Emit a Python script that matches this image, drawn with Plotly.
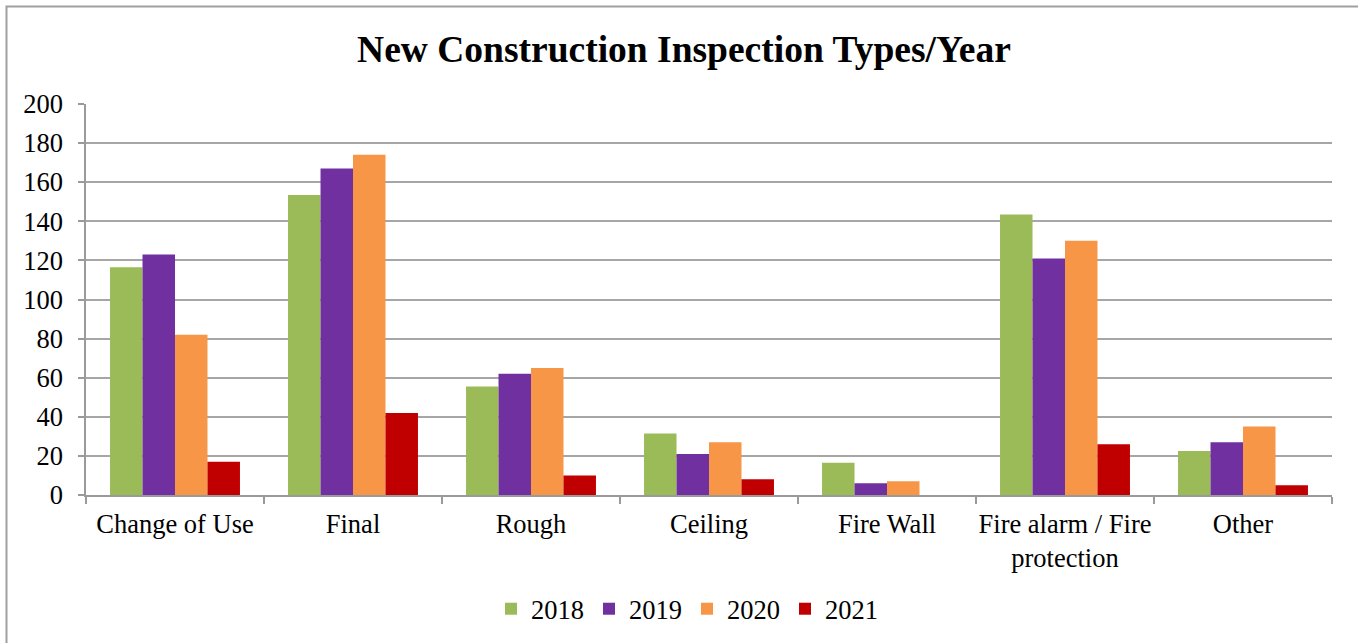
import plotly.graph_objects as go

categories = ["Change of Use", "Final", "Rough", "Ceiling", "Fire Wall",
              "Fire alarm / Fire<br>protection", "Other"]
years = ["2018", "2019", "2020", "2021"]
values_2018 = [116.5, 153.5, 55.5, 31.5, 16.5, 143.5, 22.5]
values_2019 = [123, 167, 62, 21, 6, 121, 27]
values_2020 = [82, 174, 65, 27, 7, 130, 35]
values_2021 = [17, 42, 10, 8, 0, 26, 5]
colors = ["#9BBB59", "#7030A0", "#F79646", "#C00000"]
y_ticks = [0, 20, 40, 60, 80, 100, 120, 140, 160, 180, 200]

series = [values_2018, values_2019, values_2020, values_2021]

fig = go.Figure()
for name, vals, col in zip(years, series, colors):
    fig.add_trace(go.Bar(name=name, x=categories, y=vals, marker_color=col,
                         marker_line_width=0))

FONT = "Liberation Serif, Times New Roman, serif"
FS = 26.5
W, H = 1358, 643
L, R, T, B = 86, 26, 104, 148
pw, ph = W - L - R, H - T - B

def px_x(p):
    return (p - L) / pw

def px_y(p):
    return (H - B - p) / ph

fig.update_layout(
    width=W, height=H,
    margin=dict(l=L, r=R, t=T, b=B, autoexpand=False),
    paper_bgcolor="white", plot_bgcolor="white",
    font=dict(family=FONT, size=FS, color="black"),
    title=dict(text="<b>New Construction Inspection Types/Year</b>",
               x=684 / W, xref="container", xanchor="center",
               y=1 - 49 / H, yref="container", yanchor="middle",
               font=dict(family=FONT, size=37.5, color="black")),
    barmode="group", bargap=0.27, bargroupgap=0,
    showlegend=True,
    legend=dict(orientation="h", x=687 / W, xref="container", xanchor="center",
                y=1 - 609 / H, yref="container", yanchor="middle",
                font=dict(family=FONT, size=FS, color="black"),
                traceorder="normal", itemsizing="constant"),
    xaxis=dict(showline=True, linecolor="#9a9a9a", linewidth=1.5,
               ticks="outside", tickson="boundaries", ticklen=7,
               tickcolor="#9a9a9a", tickwidth=1.5, tickangle=0,
               automargin=False, ticklabelstandoff=4,
               showgrid=False, tickfont=dict(family=FONT, size=FS)),
    yaxis=dict(range=[0, 200], tickvals=y_ticks, showline=True,
               linecolor="#9a9a9a", linewidth=1.5, automargin=False,
               ticks="outside", ticklen=6, tickcolor="#9a9a9a", tickwidth=1.5,
               showgrid=True, gridcolor="#a6a6a6", gridwidth=1.5,
               zeroline=False, tickfont=dict(family=FONT, size=FS),
               ticklabelstandoff=10),
)

fig.add_shape(type="rect", xref="paper", yref="paper",
              x0=px_x(6.5), x1=px_x(1420), y0=px_y(720), y1=px_y(6.5),
              line=dict(color="#a0a0a0", width=2), fillcolor="rgba(0,0,0,0)",
              layer="above")

fig.write_html("out.html",
               config={"displayModeBar": False},
               post_script="document.body.style.margin='0';document.body.style.padding='0';")
